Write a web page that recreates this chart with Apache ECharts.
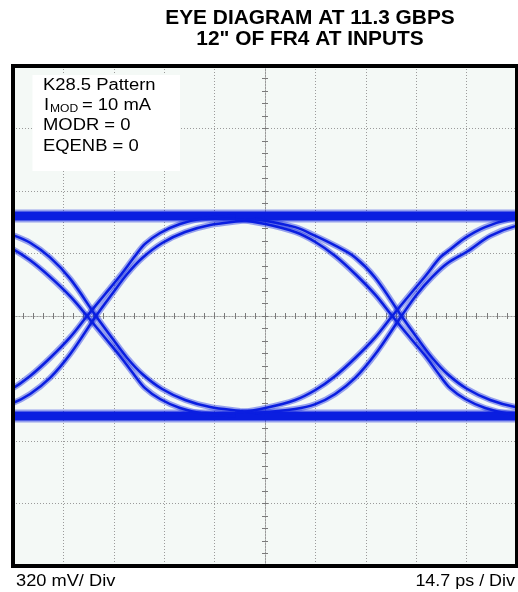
<!DOCTYPE html>
<html>
<head>
<meta charset="utf-8">
<script src="https://cdn.jsdelivr.net/npm/echarts@6/dist/echarts.min.js"></script>
<style>
  html, body { margin: 0; padding: 0; background: #ffffff; }
  #chart { width: 518px; height: 592px; }
</style>
</head>
<body>
<div id="chart"></div>
<script>
// ---- Axis ranges (time in ps relative to screen centre, voltage in mV) ----
var timeMin = -73.5, timeMax = 73.5, timeDiv = 14.7;     // 14.7 ps / Div, 10 divisions
var voltMin = -1280, voltMax = 1280, voltDiv = 320;       // 320 mV / Div, 8 divisions

// ---- Text ----
var titleLines = ['EYE DIAGRAM AT 11.3 GBPS', '12" OF FR4 AT INPUTS'];
var noteLines = ['K28.5 Pattern', 'I', 'MOD', '= 10 mA', 'MODR = 0', 'EQENB = 0'];
var voltScaleLabel = '320 mV/ Div';
var timeScaleLabel = '14.7 ps / Div';

// ---- Traces: [time ps, voltage mV] ----
var topRail = [[-73.5, 512], [-40, 512], [0, 512], [40, 512], [73.5, 512]];
var bottomRail = [[-73.5, -512], [-40, -512], [0, -512], [40, -512], [73.5, -512]];

// left crossing (~ -51 ps)
var riseA1 = [[-97.7,-497],[-88.9,-471],[-80.2,-430],[-74.3,-379],[-68.5,-307],[-62.7,-215],[-56.8,-108],[-51.9,0],[-46.6,113],[-42.3,205],[-37.9,307],[-35.0,369],[-30.6,425],[-24.8,471],[-17.5,502],[-8.7,512]];
var riseB1 = [[-91.8,-497],[-80.2,-476],[-74.3,-451],[-68.5,-399],[-62.7,-317],[-56.8,-195],[-49.3,0],[-44.6,113],[-40.2,215],[-35.8,297],[-30.0,374],[-23.3,430],[-16.0,466],[-7.3,486],[0,502]];
var fallA1 = [[-97.7,490],[-88.9,455],[-80.2,400],[-74.3,350],[-68.5,285],[-62.7,200],[-56.8,100],[-51.9,0],[-46.6,-113],[-42.3,-205],[-37.9,-307],[-35.0,-369],[-30.6,-425],[-24.8,-471],[-17.5,-502],[-8.7,-512]];
var fallB1 = [[-91.8,497],[-80.2,460],[-74.3,420],[-68.5,375],[-62.7,300],[-56.8,190],[-49.3,0],[-44.6,-113],[-40.2,-215],[-35.8,-297],[-30.0,-374],[-23.3,-430],[-16.0,-466],[-7.3,-486],[0,-502]];

// right crossing (~ 38 ps)
var riseA2 = [[-8.7,-497],[0.1,-471],[8.8,-430],[14.7,-379],[20.5,-307],[26.3,-215],[32.2,-108],[37.1,0],[42.4,113],[46.8,205],[51.1,300],[54.0,340],[58.4,400],[64.2,455],[71.5,495],[80.3,512]];
var riseB2 = [[-2.8,-497],[8.8,-476],[14.7,-451],[20.5,-399],[26.3,-317],[32.2,-195],[39.8,0],[44.4,113],[48.8,200],[53.2,270],[59.0,330],[65.7,410],[73.0,460],[81.8,486],[89.0,502]];
var fallA2 = [[-8.7,497],[0.1,471],[8.8,430],[14.7,379],[20.5,307],[26.3,215],[32.2,108],[37.1,0],[42.4,-113],[46.8,-205],[51.1,-307],[54.0,-369],[58.4,-425],[64.2,-471],[71.5,-502],[80.3,-512]];
var fallB2 = [[-2.8,497],[8.8,455],[14.7,410],[20.5,360],[26.3,300],[32.2,195],[39.8,0],[44.4,-113],[48.8,-215],[53.2,-297],[59.0,-374],[65.7,-430],[73.0,-466],[81.8,-486],[89.0,-502]];

var traceColor = '#0a1ee0';
var gridColor = '#9b9b9b';

var chart = echarts.init(document.getElementById('chart'), null, { renderer: 'canvas' });

// each trace: a soft halo plus a denser core
function traceSeries(name, data, coreWidth, haloWidth) {
  return [
    {
      name: name + ' halo', type: 'line', data: data, xAxisIndex: 0, yAxisIndex: 0,
      showSymbol: false, symbol: 'none', smooth: 0.35, silent: true, clip: true,
      lineStyle: { color: traceColor, width: haloWidth, opacity: 0.4 },
      z: 2
    },
    {
      name: name, type: 'line', data: data, xAxisIndex: 0, yAxisIndex: 0,
      showSymbol: false, symbol: 'none', smooth: 0.35, silent: true, clip: true,
      lineStyle: { color: traceColor, width: coreWidth, opacity: 1 },
      z: 3
    }
  ];
}

var dotted = { color: gridColor, width: 1, type: [1, 2] };

function xAxisDef(inside, showSplit) {
  return {
    type: 'value', min: timeMin, max: timeMax, interval: timeDiv, position: 'bottom',
    axisLine: { show: true, onZero: true, onZeroAxisIndex: 0, lineStyle: dotted },
    axisTick: { show: true, inside: inside, length: 3, lineStyle: { color: '#7a7a7a', width: 1 } },
    minorTick: { show: true, splitNumber: 5, length: 3, lineStyle: { color: '#7a7a7a', width: 1 } },
    axisLabel: { show: false },
    splitLine: { show: showSplit, lineStyle: dotted },
    minorSplitLine: { show: false }
  };
}
function yAxisDef(inside, showSplit) {
  return {
    type: 'value', min: voltMin, max: voltMax, interval: voltDiv, position: 'left',
    axisLine: { show: true, onZero: true, onZeroAxisIndex: 0, lineStyle: dotted },
    axisTick: { show: true, inside: inside, length: 3, lineStyle: { color: '#7a7a7a', width: 1 } },
    minorTick: { show: true, splitNumber: 5, length: 3, lineStyle: { color: '#7a7a7a', width: 1 } },
    axisLabel: { show: false },
    splitLine: { show: showSplit, lineStyle: dotted },
    minorSplitLine: { show: false }
  };
}

var series = [].concat(
  traceSeries('top rail', topRail, 9, 13),
  traceSeries('bottom rail', bottomRail, 9, 13),
  traceSeries('rise A1', riseA1, 2.5, 6),
  traceSeries('rise B1', riseB1, 2.5, 6),
  traceSeries('fall A1', fallA1, 2.5, 6),
  traceSeries('fall B1', fallB1, 2.5, 6),
  traceSeries('rise A2', riseA2, 2.5, 6),
  traceSeries('rise B2', riseB2, 2.5, 6),
  traceSeries('fall A2', fallA2, 2.5, 6),
  traceSeries('fall B2', fallB2, 2.5, 6)
);

var sx = 1.15;
var fontN = '16px "Liberation Sans", Arial, sans-serif';
var option = {
  animation: false,
  backgroundColor: '#ffffff',
  grid: {
    left: 13, top: 66, right: 1, bottom: 26,
    show: true, backgroundColor: '#f4f9f6', borderWidth: 0
  },
  xAxis: [xAxisDef(true, true), xAxisDef(false, false)],
  yAxis: [yAxisDef(true, true), yAxisDef(false, false)],
  series: series,
  graphic: [
    // white margin left of the frame (hides line caps that spill past the clip)
    { type: 'rect', z: 99, silent: true,
      shape: { x: 0, y: 60, width: 11.5, height: 512 },
      style: { fill: '#ffffff', stroke: null } },
    // frame
    { type: 'rect', z: 100, silent: true,
      shape: { x: 13, y: 66, width: 504, height: 500 },
      style: { fill: null, stroke: '#000000', lineWidth: 4 } },
    // title
    { type: 'text', z: 100, x: 310, y: 18.5, scaleX: 1.07,
      style: { text: titleLines[0], font: 'bold 19.5px "Liberation Sans", Arial, sans-serif', fill: '#000', align: 'center', verticalAlign: 'middle' } },
    { type: 'text', z: 100, x: 310, y: 39.8, scaleX: 1.07,
      style: { text: titleLines[1], font: 'bold 19.5px "Liberation Sans", Arial, sans-serif', fill: '#000', align: 'center', verticalAlign: 'middle' } },
    // annotation box
    { type: 'rect', z: 90, silent: true,
      shape: { x: 32.5, y: 75, width: 147.5, height: 96 },
      style: { fill: '#ffffff', stroke: null } },
    { type: 'text', z: 100, x: 43, y: 85.3, scaleX: sx,
      style: { text: noteLines[0], font: fontN, fill: '#000', align: 'left', verticalAlign: 'middle' } },
    { type: 'text', z: 100, x: 44, y: 105.4, scaleX: sx,
      style: { text: noteLines[1], font: fontN, fill: '#000', align: 'left', verticalAlign: 'middle' } },
    { type: 'text', z: 100, x: 50, y: 109.5, scaleX: sx,
      style: { text: noteLines[2], font: '10.5px "Liberation Sans", Arial, sans-serif', fill: '#000', align: 'left', verticalAlign: 'middle' } },
    { type: 'text', z: 100, x: 82, y: 105.4, scaleX: sx,
      style: { text: noteLines[3], font: fontN, fill: '#000', align: 'left', verticalAlign: 'middle' } },
    { type: 'text', z: 100, x: 43, y: 125.6, scaleX: sx,
      style: { text: noteLines[4], font: fontN, fill: '#000', align: 'left', verticalAlign: 'middle' } },
    { type: 'text', z: 100, x: 43, y: 146.2, scaleX: sx,
      style: { text: noteLines[5], font: fontN, fill: '#000', align: 'left', verticalAlign: 'middle' } },
    // scale labels
    { type: 'text', z: 100, x: 16, y: 582, scaleX: 1.14,
      style: { text: voltScaleLabel, font: fontN, fill: '#000', align: 'left', verticalAlign: 'middle' } },
    { type: 'text', z: 100, x: 515, y: 582, scaleX: 1.12,
      style: { text: timeScaleLabel, font: fontN, fill: '#000', align: 'right', verticalAlign: 'middle' } }
  ]
};
chart.setOption(option);
</script>
</body>
</html>
